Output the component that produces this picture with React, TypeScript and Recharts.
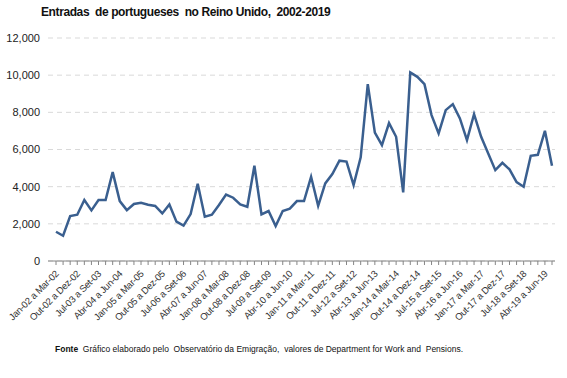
import { LineChart, Line, XAxis, YAxis, CartesianGrid } from "recharts"

// trimestres: Jan-02 a Mar-02 ... Jul-19 a Set-19
const quarterStart = ["Jan", "Abr", "Jul", "Out"]
const quarterEnd = ["Mar", "Jun", "Set", "Dez"]
const years = ["02", "03", "04", "05", "06", "07", "08", "09", "10", "11", "12", "13", "14", "15", "16", "17", "18", "19"]

const categories: string[] = []
years.forEach((y) => {
  quarterStart.forEach((q, i) => {
    categories.push(`${q}-${y} a ${quarterEnd[i]}-${y}`)
  })
})

// entradas por trimestre
const entradas = [
  1575, 1360, 2420, 2490, 3280, 2725, 3280, 3280, 4785, 3225,
  2740, 3065, 3135, 3030, 2960, 2560, 3045, 2115, 1900, 2525,
  4160, 2385, 2490, 3010, 3570, 3405, 3045, 2920, 5125, 2510,
  2690, 1880, 2690, 2815, 3225, 3225, 4530, 2965, 4175, 4680,
  5400, 5350, 4080, 5575, 9515, 6910, 6235, 7420, 6685, 3690,
  10150, 9910, 9515, 7850, 6865, 8120, 8440, 7670, 6505, 7900,
  6685, 5790, 4890, 5285, 4930, 4245, 3995, 5660, 5715, 7005,
  5125,
]

const yTicks = [0, 2000, 4000, 6000, 8000, 10000, 12000]

const data = entradas.map((v, i) => ({ name: categories[i], entradas: v }))

const FONT = "'Liberation Sans', Arial, sans-serif"

function QuarterTick(props: any) {
  const { x, y, payload, index } = props
  const i = payload?.index ?? index
  if (i % 3 !== 0) return null
  return (
    <g transform={`translate(${x + 1},${y + 5})`}>
      <text
        x={0}
        y={0}
        dy="0.35em"
        textAnchor="end"
        transform="rotate(-45)"
        fontSize={9.5}
        letterSpacing={-0.25}
        fontFamily={FONT}
        fill="#333"
      >
        {payload.value}
      </text>
    </g>
  )
}

export default function App() {
  return (
    <div style={{ position: "absolute", left: 0, top: 0, width: 567, height: 378, background: "#fff", fontFamily: FONT }}>
      <div
        style={{
          position: "absolute",
          left: 41,
          top: 5,
          fontSize: 12,
          lineHeight: "14px",
          fontWeight: "bold",
          letterSpacing: -0.4,
          color: "#111",
          whiteSpace: "pre",
        }}
      >
        Entradas  de portugueses  no Reino Unido,  2002-2019
      </div>
      <LineChart
        width={567}
        height={378}
        data={data}
        margin={{ top: 38, right: 12, bottom: 47, left: 8 }}
      >
        <CartesianGrid vertical={false} strokeDasharray="5 4" stroke="#d9d9d9" />
        <XAxis
          dataKey="name"
          interval={0}
          height={70}
          tickSize={4}
          padding={{ left: 8, right: 3 }}
          stroke="#868686"
          tick={<QuarterTick />}
        />
        <YAxis
          width={40}
          domain={[0, 12000]}
          ticks={yTicks}
          axisLine={false}
          tickLine={false}
          tick={{ fontSize: 11, fill: "#222", fontFamily: FONT }}
          tickFormatter={(v) => v.toLocaleString("en-US")}
        />
        <Line
          type="linear"
          dataKey="entradas"
          stroke="#3A5F8F"
          strokeWidth={2.5}
          dot={false}
          isAnimationActive={false}
        />
      </LineChart>
      <div
        style={{
          position: "absolute",
          left: 55,
          top: 344,
          fontSize: 8.5,
          lineHeight: "10px",
          color: "#111",
          whiteSpace: "pre",
        }}
      >
        <b>Fonte</b>  Gráfico elaborado pelo  Observatório da Emigração,  valores de Department for Work and  Pensions.
      </div>
    </div>
  )
}
